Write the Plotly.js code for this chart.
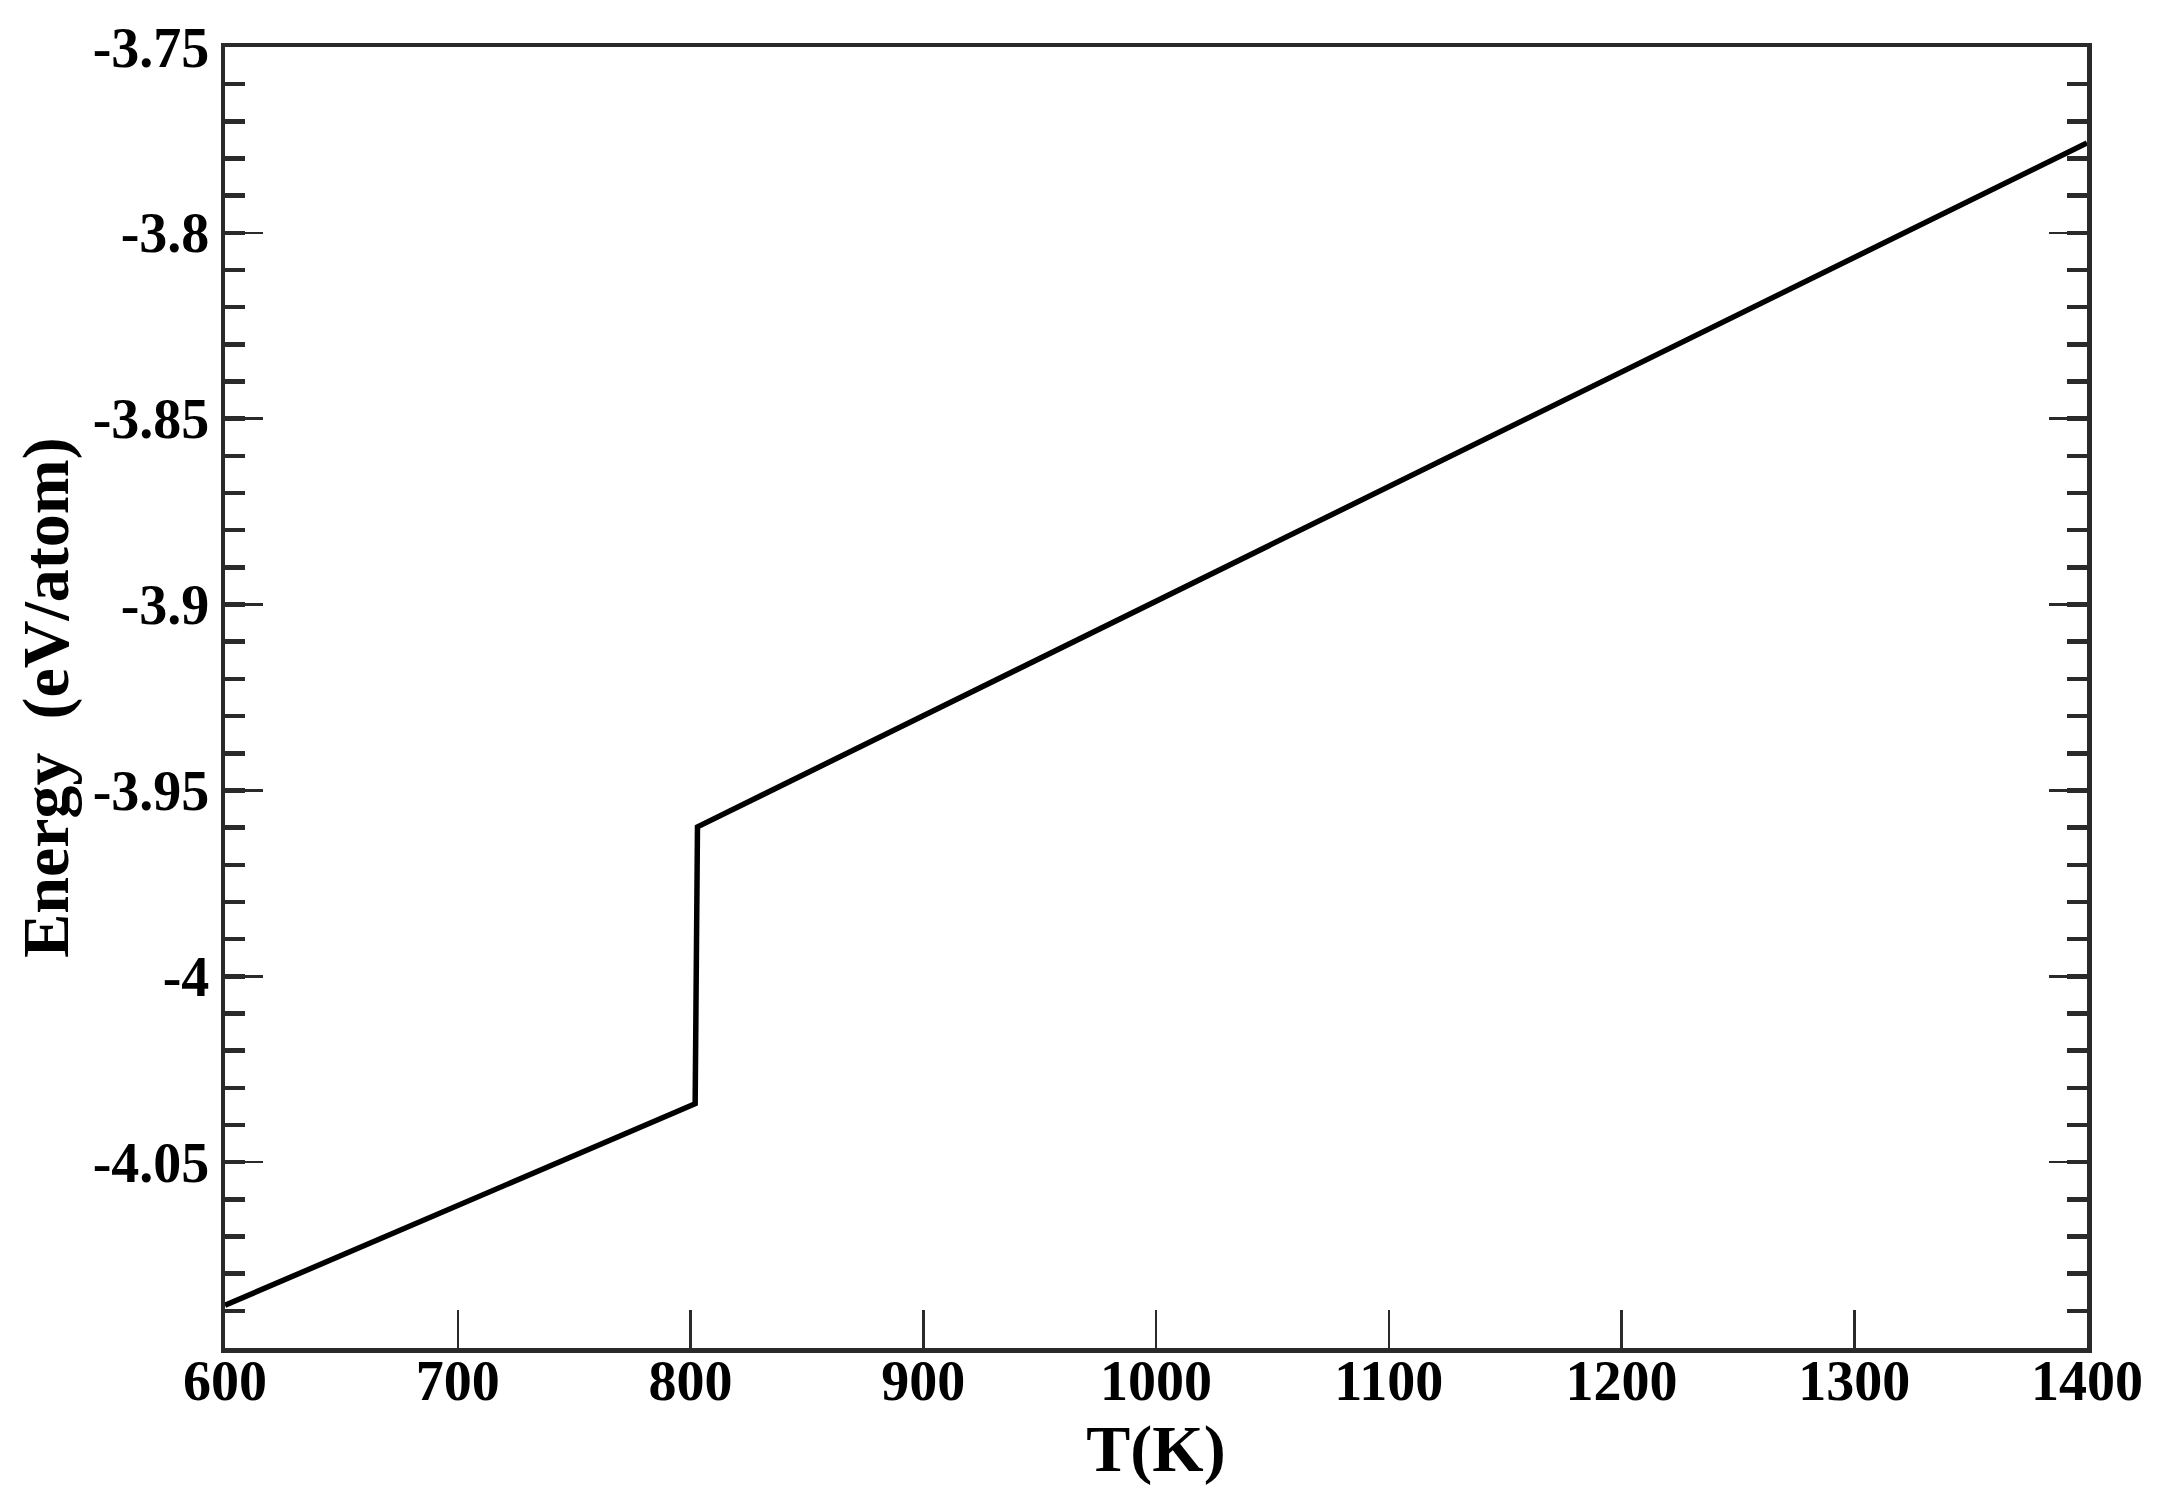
<!DOCTYPE html>
<html>
<head>
<meta charset="utf-8">
<script src="https://cdn.plot.ly/plotly-3.0.1.min.js"></script>
<style>
  html, body { margin: 0; padding: 0; background: #fff; }
  #plot1 { width: 2167px; height: 1501px; }
</style>
</head>
<body>
<div id="plot1"></div>
<script>
// temperature (K) and energy (eV/atom)
var temp_K = [600, 802, 803, 1400];
var energy = [-4.0885, -4.0343, -3.9598, -3.7758];

var x_ticks = [600, 700, 800, 900, 1000, 1100, 1200, 1300, 1400];
var x_labels = ["600", "700", "800", "900", "1000", "1100", "1200", "1300", "1400"];
var y_ticks = [-4.05, -4.0, -3.95, -3.9, -3.85, -3.8, -3.75];
var y_labels = ["-4.05", "-4", "-3.95", "-3.9", "-3.85", "-3.8", "-3.75"];

var axis_col = "#2a2a2a";
var tick_font = {family: "Liberation Serif, Times New Roman, serif", size: 56, color: "#000"};
var title_font = {family: "Liberation Serif, Times New Roman, serif", size: 66, color: "#000"};

var data = [{
  x: temp_K,
  y: energy,
  type: "scatter",
  mode: "lines",
  line: {color: "#000", width: 5.5},
  hoverinfo: "none"
}];

var layout = {
  width: 2167,
  height: 1501,
  paper_bgcolor: "#fff",
  plot_bgcolor: "#fff",
  showlegend: false,
  margin: {l: 225, r: 80, t: 47, b: 153},
  xaxis: {
    range: [600, 1400],
    tickvals: x_ticks,
    ticktext: x_labels,
    ticks: "inside",
    ticklen: 38,
    tickwidth: 2.5,
    tickcolor: axis_col,
    showline: true,
    linecolor: axis_col,
    linewidth: 4.5,
    mirror: true,
    showgrid: false,
    zeroline: false,
    tickfont: tick_font,
    ticklabelstandoff: -20,
    title: {text: "<b>T(K)</b>", font: title_font, standoff: 0}
  },
  yaxis: {
    range: [-4.1, -3.75],
    tickvals: y_ticks,
    ticktext: y_labels,
    ticks: "inside",
    ticklen: 38,
    tickwidth: 2.5,
    tickcolor: axis_col,
    minor: {dtick: 0.01, tick0: -4.1, ticks: "inside", ticklen: 20, tickwidth: 4.5, tickcolor: axis_col, showgrid: false},
    showline: true,
    linecolor: axis_col,
    linewidth: 4.5,
    mirror: "ticks",
    showgrid: false,
    zeroline: false,
    tickfont: tick_font,
    ticklabelstandoff: 0,
    title: {text: "<b>Energy  (eV/atom)</b>", font: title_font, standoff: 4}
  }
};

Plotly.newPlot("plot1", data, layout, {staticPlot: true});

// make tick labels bold like the reference
var labels = document.querySelectorAll(".xtick text, .ytick text");
labels.forEach(function(t) { t.style.fontWeight = "bold"; });
</script>
</body>
</html>
